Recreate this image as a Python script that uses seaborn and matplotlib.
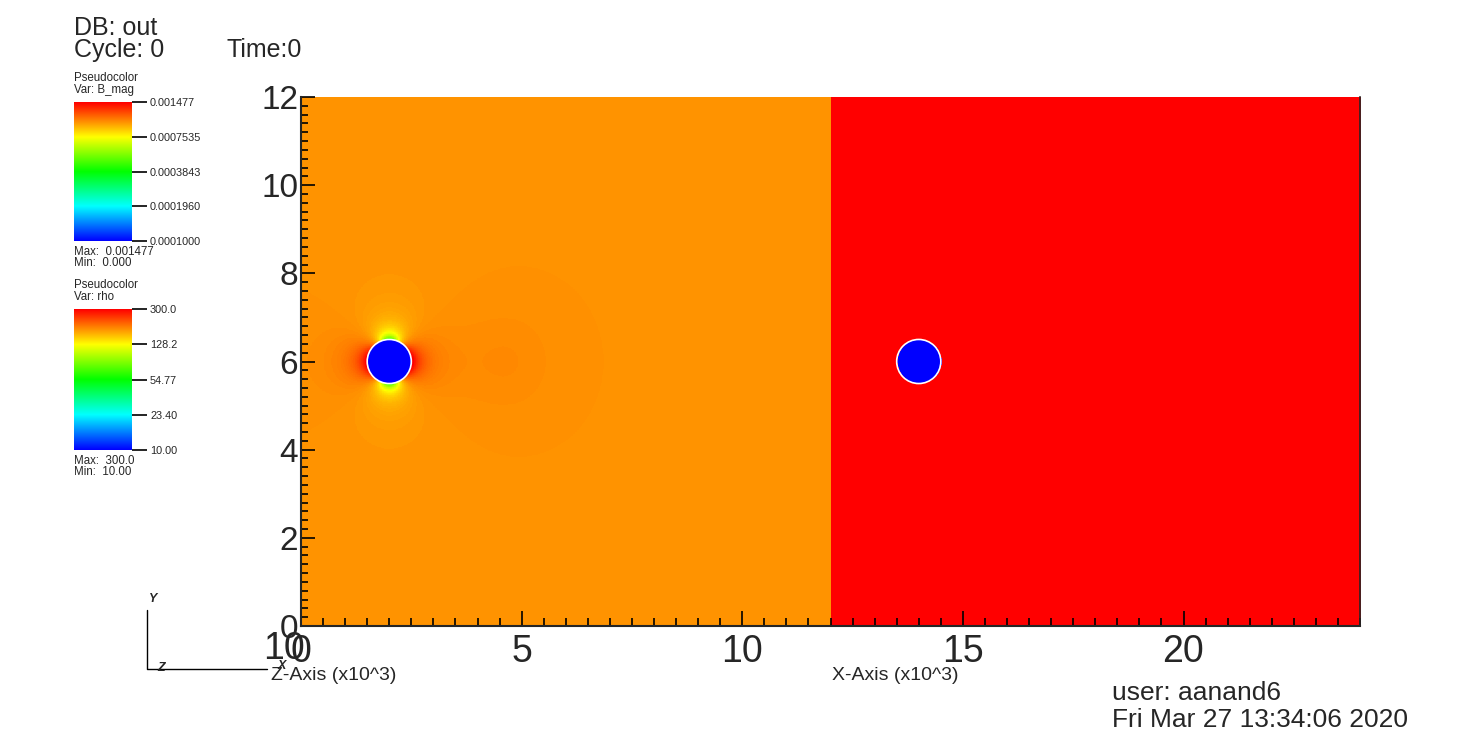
import numpy as np
import matplotlib
matplotlib.use("Agg")
import matplotlib.pyplot as plt
from matplotlib.colors import LogNorm
from matplotlib.patches import Circle
from matplotlib.ticker import MultipleLocator
import seaborn as sns

# --- values (x in units of 10^3) ---
bmag_levels = [0.001477, 0.0007535, 0.0003843, 0.0001960, 0.0001000]
rho_levels = [300.0, 128.2, 54.77, 23.40, 10.00]
bmag_background = 0.001      # far field |B| -> orange
dipole_strength = 0.6        # red at the sides (x1.6), green at the poles (x0.4)
dipole_falloff = 1.0         # extra fall-off of the disturbance with distance
wake_amp = 0.02              # faint redder lobe behind the left sphere
wake_x, wake_w, wake_h = 4.7, 1.0, 1.1
rho_background = 300.0
rho_sphere = 10.0
sphere_x = [2.0, 14.0]
sphere_y = [6.0, 6.0]
sphere_r = 0.5
panel_x = [0.0, 12.0, 24.0]
y_range = [0.0, 12.0]
x_major = [0, 5, 10, 15, 20]
y_major = [0, 2, 4, 6, 8, 10, 12]

W, H = 1483, 744
sns.set_style("ticks")
plt.rcParams["font.family"] = ["Liberation Sans", "DejaVu Sans"]

cmap = sns.blend_palette(["#0000ff", "#00ffff", "#00ff00", "#ffff00", "#ff0000"],
                         n_colors=256, as_cmap=True)

fig = plt.figure(figsize=(W / 100, H / 100), dpi=100)
fig.patch.set_facecolor("white")


def px(x, y):
    return x / W, 1 - y / H


# main axes
l, r_, t, b = 301, 1360, 97, 626
ax = fig.add_axes([l / W, 1 - b / H, (r_ - l) / W, (b - t) / H])

# left panel: B_mag around the sphere
n = 800
xs = np.linspace(panel_x[0], panel_x[1], n)
ys = np.linspace(y_range[0], y_range[1], n)
X, Y = np.meshgrid(xs, ys)
zc = (X - sphere_x[0]) + 1j * (Y - sphere_y[0])
rad = np.maximum(np.abs(zc), 1e-6)
zc = np.where(np.abs(zc) < 1e-6, 1e-6, zc)
pert = dipole_strength * (sphere_r / zc) ** 2 * (sphere_r / rad) ** dipole_falloff
bmag = bmag_background * np.abs(1 + pert)
bmag *= 1 + wake_amp * np.exp(-(((X - wake_x) / wake_w) ** 2 + ((Y - sphere_y[0]) / wake_h) ** 2))
bmag[rad < sphere_r] = 1e-6
ax.imshow(bmag, origin="lower", extent=[panel_x[0], panel_x[1], y_range[0], y_range[1]],
          cmap=cmap, norm=LogNorm(vmin=bmag_levels[-1], vmax=bmag_levels[0]),
          interpolation="nearest", aspect="auto")

# right panel: rho
xs2 = np.linspace(panel_x[1], panel_x[2], n)
X2, Y2 = np.meshgrid(xs2, ys)
rho = np.full(X2.shape, rho_background)
rho[np.hypot(X2 - sphere_x[1], Y2 - sphere_y[1]) < sphere_r] = rho_sphere
ax.imshow(rho, origin="lower", extent=[panel_x[1], panel_x[2], y_range[0], y_range[1]],
          cmap=cmap, norm=LogNorm(vmin=rho_levels[-1], vmax=rho_levels[0]),
          interpolation="nearest", aspect="auto")

for cx, cy in zip(sphere_x, sphere_y):
    ax.add_patch(Circle((cx, cy), sphere_r, facecolor="none", edgecolor="white", lw=1.2))

ax.set_xlim(panel_x[0], panel_x[2])
ax.set_ylim(y_range)
ax.set_xticks(x_major)
ax.set_yticks(y_major)
ax.xaxis.set_minor_locator(MultipleLocator(0.5))
ax.yaxis.set_minor_locator(MultipleLocator(0.2))
ax.tick_params(which="both", direction="in", color="black", width=1.2, top=False, right=False)
ax.tick_params(axis="x", which="major", length=11, labelsize=27, pad=6)
ax.tick_params(axis="y", which="major", length=10, labelsize=24, pad=2)
ax.tick_params(axis="x", which="minor", length=6)
ax.tick_params(axis="y", which="minor", length=5)
ax.spines["top"].set_visible(False)
for s in ["left", "bottom"]:
    ax.spines[s].set_linewidth(1.5)
ax.spines["right"].set_linewidth(1.2)

fig.text(*px(284, 649), "10", fontsize=27, ha="center", va="center")
fig.text(*px(271, 675), "Z-Axis (x10^3)", fontsize=14, ha="left", va="center")
fig.text(*px(832, 675), "X-Axis (x10^3)", fontsize=14, ha="left", va="center")

# header / footer
fig.text(*px(74, 28), "DB: out", fontsize=18, ha="left", va="center")
fig.text(*px(74, 50), "Cycle: 0", fontsize=18, ha="left", va="center")
fig.text(*px(227, 50), "Time:0", fontsize=18, ha="left", va="center")
fig.text(*px(1112, 693), "user: aanand6", fontsize=19, ha="left", va="center")
fig.text(*px(1112, 720), "Fri Mar 27 13:34:06 2020", fontsize=19, ha="left", va="center")


# colour legends
def legend_bar(top, bottom, var, labels, vmax, vmin):
    cax = fig.add_axes([74 / W, 1 - bottom / H, 58 / W, (bottom - top) / H])
    grad = np.linspace(0, 1, 256)[:, None]
    cax.imshow(grad, origin="lower", cmap=cmap, aspect="auto", extent=[0, 1, 0, 1])
    cax.set_xticks([])
    cax.set_yticks(np.linspace(0, 1, len(labels)))
    cax.set_yticklabels(labels[::-1])
    cax.yaxis.tick_right()
    cax.tick_params(axis="y", length=11, width=1.2, labelsize=7.8, pad=2, color="black")
    for s in cax.spines.values():
        s.set_visible(False)
    fig.text(*px(74, top - 24), "Pseudocolor", fontsize=8.3, ha="left", va="center")
    fig.text(*px(74, top - 12), "Var: " + var, fontsize=8.3, ha="left", va="center")
    fig.text(*px(74, bottom + 11), "Max:  " + vmax, fontsize=8.3, ha="left", va="center")
    fig.text(*px(74, bottom + 22), "Min:  " + vmin, fontsize=8.3, ha="left", va="center")


legend_bar(102, 241, "B_mag", ["0.001477", "0.0007535", "0.0003843", "0.0001960", "0.0001000"],
           "0.001477", "0.000")
legend_bar(309, 450, "rho", ["300.0", "128.2", "54.77", "23.40", "10.00"], "300.0", "10.00")

# view triad
tri = fig.add_axes([0, 0, 1, 1], facecolor="none")
tri.set_xlim(0, W)
tri.set_ylim(H, 0)
tri.axis("off")
tri.plot([147, 147, 267], [610, 669, 669], color="black", lw=1)
tri.text(153, 599, "Y", fontsize=9, style="italic", weight="bold", ha="center", va="center")
tri.text(161, 668, "Z", fontsize=9, style="italic", weight="bold", ha="center", va="center")
tri.text(282, 666, "X", fontsize=9, style="italic", weight="bold", ha="center", va="center")

fig.savefig("out.png", dpi=100)
